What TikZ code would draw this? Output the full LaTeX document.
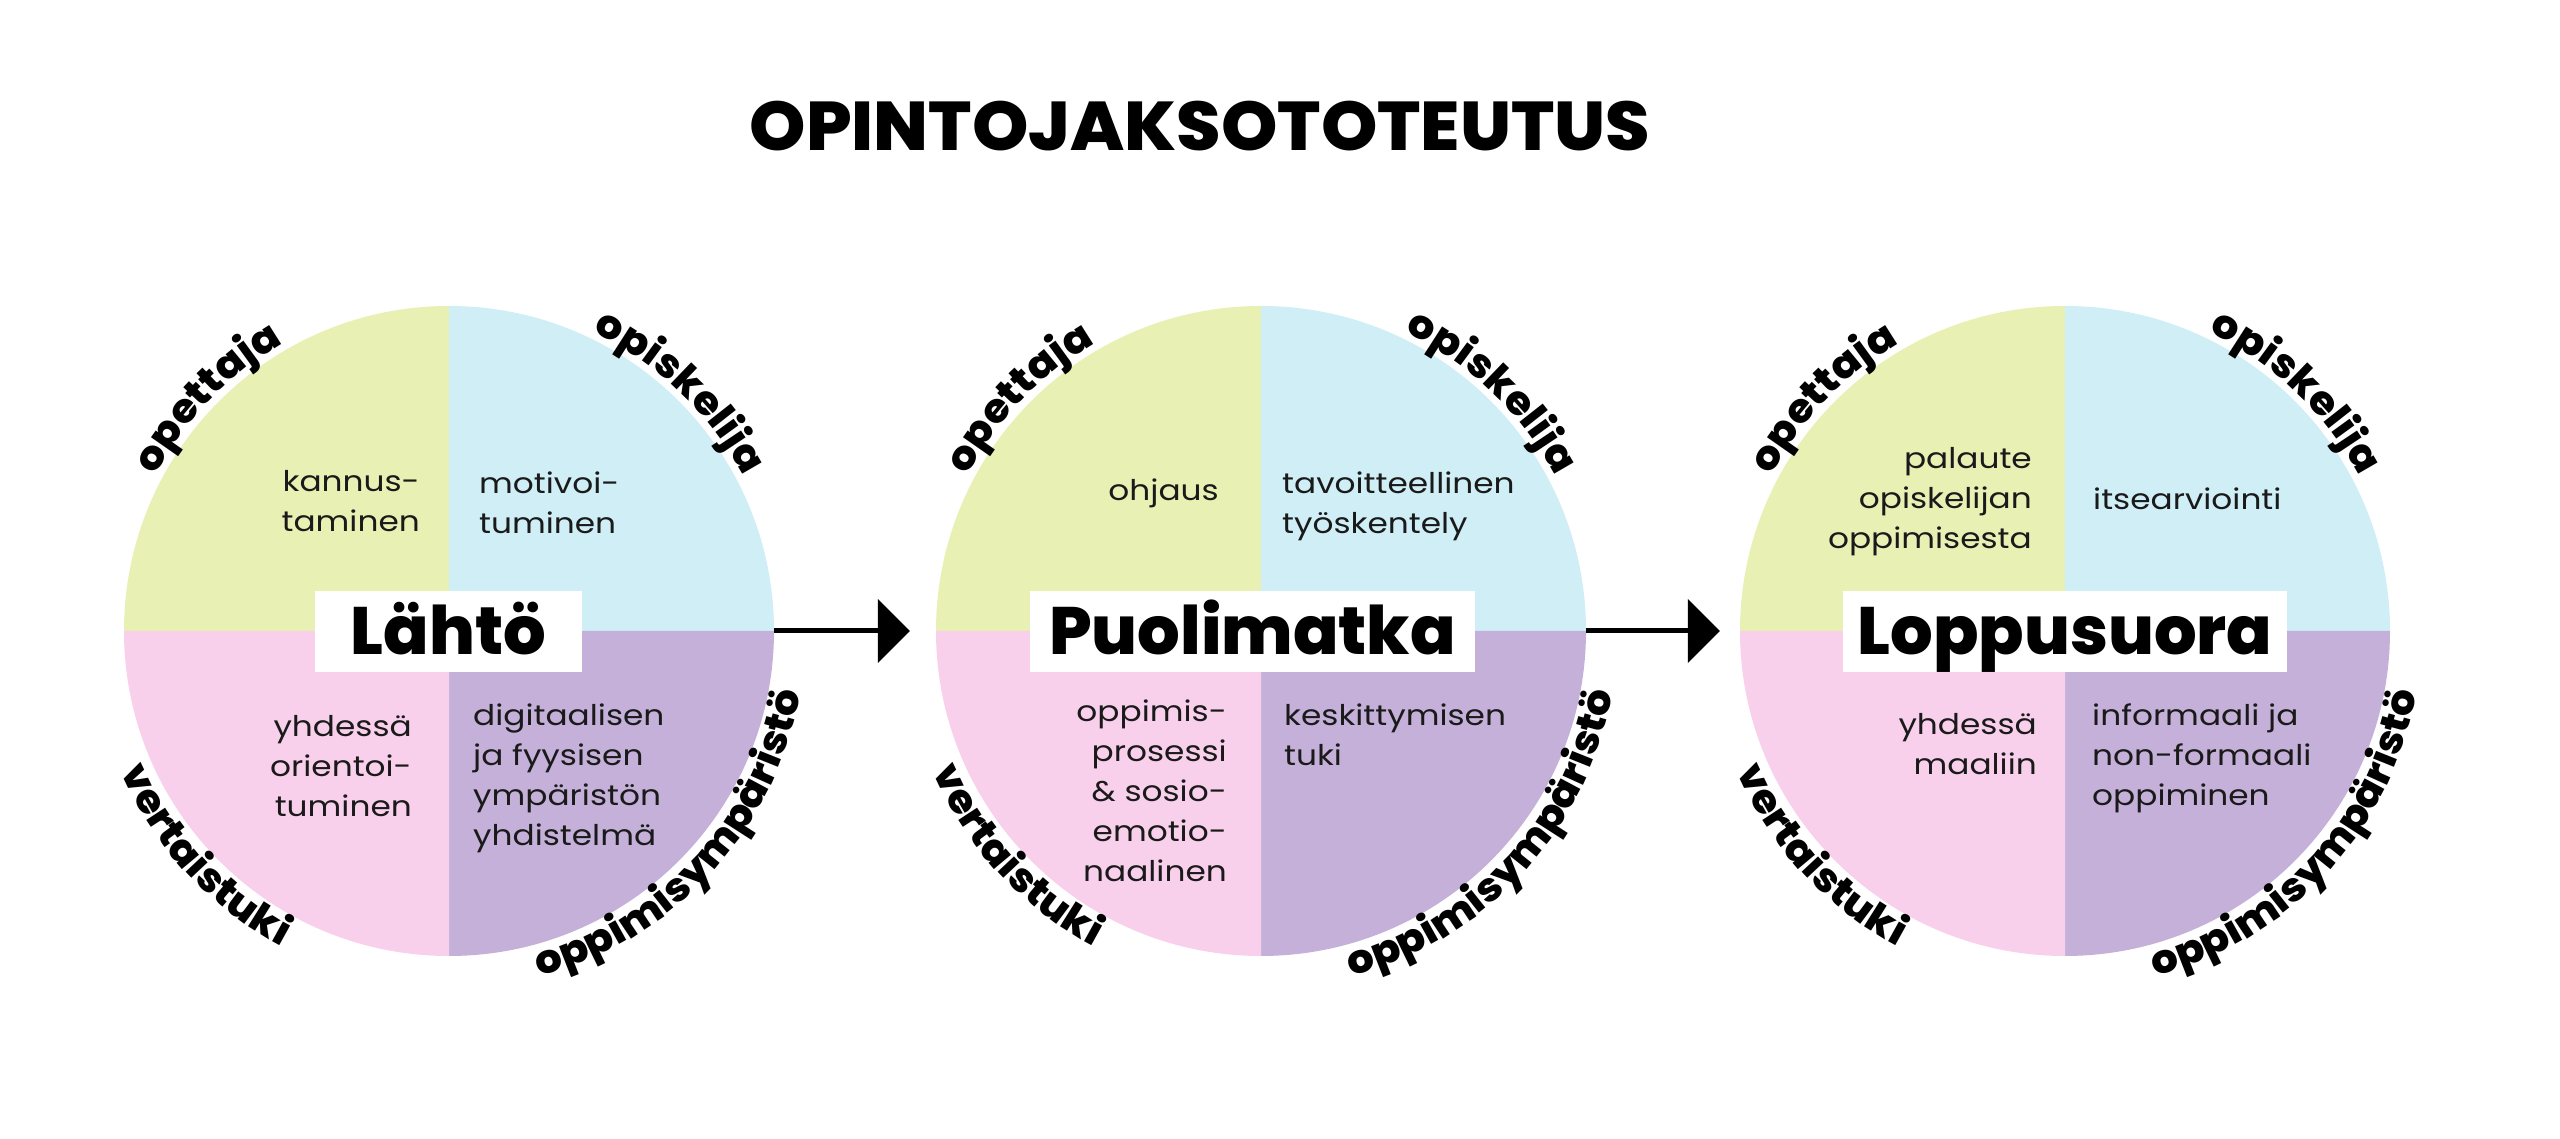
\documentclass[tikz,border=0pt]{standalone}
\usepackage{fontspec}
\setmainfont{Poppins}
\newfontfamily\bodyfam{Poppins}[FakeStretch=1.15]
\newfontfamily\heavyfam{Poppins ExtraBold}[FakeStretch=1.04]
\newfontfamily\stagefam{Poppins ExtraBold}
\newfontfamily\lblfam{Poppins ExtraBold}[FakeStretch=1.05]
\usetikzlibrary{arrows.meta,decorations.text}
\definecolor{qgreen}{HTML}{E8F0B4}
\definecolor{qblue}{HTML}{D0EEF6}
\definecolor{qpink}{HTML}{F9D0EB}
\definecolor{qpurple}{HTML}{C4B0D8}
\definecolor{qtext}{HTML}{1A1A1A}
\newcommand\qfont{\bodyfam\fontsize{28.5}{40}\selectfont}
\newcommand\lblfont{\lblfam\fontsize{40}{40}\selectfont}
\begin{document}
\begin{tikzpicture}[x=1pt,y=1pt,
  qt/.style={inner sep=0pt, font=\qfont, text=qtext},
  ql/.style={qt, align=right, anchor=north east},
  qr/.style={qt, align=left, anchor=north west},
  stage/.style={fill=white, inner sep=0pt, minimum height=81pt, text height=46pt, text depth=0pt,
    font=\stagefam\fontsize{67}{67}\selectfont},
  ring/.style={circle, minimum size=650pt, inner sep=0pt},
  arr/.style={line width=5pt, -{Triangle[length=32pt,width=63pt]}},
  arclabel/.style={decorate, decoration={text along path, text align=center, text={|\lblfont|#1}}},
]
\useasboundingbox (0,0) rectangle (2560,1139);
\fill[white] (0,0) rectangle (2560,1139);

\node[font=\heavyfam\fontsize{69}{69}\selectfont, text height=48pt, text depth=0pt, inner sep=0pt] (title) at (1200,1012) {OPINTOJAKSOTOTEUTUS};

\foreach \cx/\nm in {449/c1,1261/c2,2065/c3}{
  \fill[qgreen] (\cx,508) -- (\cx-325,508) arc[start angle=180,end angle=90,radius=325] -- cycle;
  \fill[qblue] (\cx,508) -- (\cx,833) arc[start angle=90,end angle=0,radius=325] -- cycle;
  \fill[qpurple] (\cx,508) -- (\cx+325,508) arc[start angle=0,end angle=-90,radius=325] -- cycle;
  \fill[qpink] (\cx,508) -- (\cx,183) arc[start angle=270,end angle=180,radius=325] -- cycle;
  \node[ring] (\nm) at (\cx,508) {};
  \path[arclabel=opettaja] ([shift={(196:332)}]\cx,508) arc[start angle=196,end angle=76,radius=332];
  \path[arclabel=opiskelija] ([shift={(106:332)}]\cx,508) arc[start angle=106,end angle=-14,radius=332];
  \path[arclabel=vertaistuki] ([shift={(162.6:357)}]\cx,508) arc[start angle=162.6,end angle=282.6,radius=357];
  \path[arclabel=oppimisympäristö] ([shift={(257.4:357)}]\cx,508) arc[start angle=257.4,end angle=377.4,radius=357];
}

\node[stage, minimum width=267pt] (s1) at (448.5,507.5) {Lähtö};
\node[stage, minimum width=445pt] (s2) at (1252.5,507.5) {Puolimatka};
\node[stage, minimum width=444pt] (s3) at (2065,507.5) {Loppusuora};

\draw[arr] (c1.east) -- ([xshift=-26pt]c2.west);
\draw[arr] (c2.east) -- ([xshift=-20pt]c3.west);

% circle 1
\node[ql] (t1a) at (420,669) {kannus-\\taminen};
\node[qr] (t1b) at (479,667) {motivoi-\\tuminen};
\node[ql] (t1c) at (412,424) {yhdessä\\orientoi-\\tuminen};
\node[qr] (t1d) at (473,435) {digitaalisen\\ja fyysisen\\ympäristön\\yhdistelmä};
% circle 2
\node[ql] (t2a) at (1219,660) {ohjaus};
\node[qr] (t2b) at (1282,667) {tavoitteellinen\\työskentely};
\node[ql] (t2c) at (1227,439) {oppimis-\\prosessi\\\& sosio-\\emotio-\\naalinen};
\node[qr] (t2d) at (1284,435) {keskittymisen\\tuki};
% circle 3
\node[ql] (t3a) at (2032,692) {palaute\\opiskelijan\\oppimisesta};
\node[qr] (t3b) at (2093,651) {itsearviointi};
\node[ql] (t3c) at (2037,426) {yhdessä\\maaliin};
\node[qr] (t3d) at (2092,435) {informaali ja\\non-formaali\\oppiminen};
\end{tikzpicture}
\end{document}
